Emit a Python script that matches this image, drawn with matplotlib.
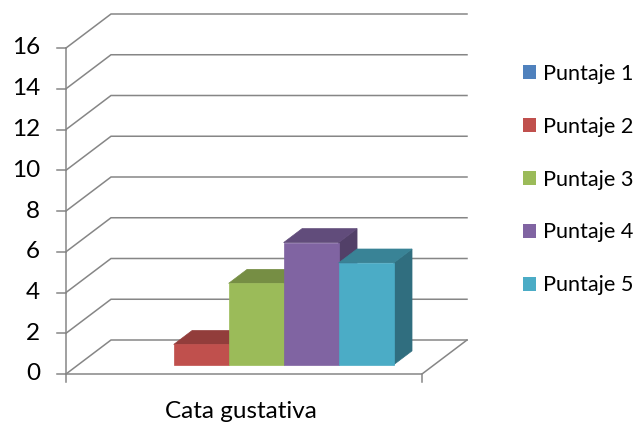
import matplotlib as mpl
import numpy as np

mpl.use("Agg")
from matplotlib import pyplot as plt
from matplotlib.patches import Polygon, Patch

plt.rcParams['font.family'] = ['Lato', 'DejaVu Sans']

category = "Cata gustativa"
series = ["Puntaje 1", "Puntaje 2", "Puntaje 3", "Puntaje 4", "Puntaje 5"]
values = [0, 1, 4, 6, 5]
colors = ["#4F81BD", "#C0504D", "#9BBB59", "#8064A2", "#4BACC6"]
yticks = [0, 2, 4, 6, 8, 10, 12, 14, 16]

# pseudo 3d layout (x: category width = 1, y: value units)
W, H = 637, 428
X0, XW = 66, 356          # px of front floor left, width
Y0, YU = 374, 20.375      # px of value 0, px per unit
DX, DY = 45 / XW, 34 / YU  # full depth offset
GAP = 0.114
D_FRONT, D_BACK = 0.27, 0.68
GRID = "#868686"


def proj(x, v, d):
    return (x + d * DX, v + d * DY)


def darker(c, f):
    r, g, b = mpl.colors.to_rgb(c)
    return (r * f, g * f, b * f)


fig = plt.figure(figsize=(W / 100, H / 100), dpi=100)
ax = fig.add_axes([0, 0, 1, 1])
ax.set_xlim(-X0 / XW, (W - X0) / XW)
ax.set_ylim((Y0 - H) / YU, Y0 / YU)
ax.axis("off")

lw = 1.1
for v in yticks:
    a, b, c = proj(0, v, 0), proj(0, v, 1), proj(1, v, 1)
    ax.plot([a[0], b[0], c[0]], [a[1], b[1], c[1]], color=GRID, lw=lw,
            solid_joinstyle="miter")
    ax.plot([-9 / XW, 0], [v, v], color=GRID, lw=lw)
    ax.text(-26 / XW, v, str(v), ha="right", va="center", fontsize=17.5,
            color="black")

# floor edges and front axis
f0, f1, f2 = proj(0, 0, 0), proj(1, 0, 0), proj(1, 0, 1)
ax.plot([f0[0], f1[0], f2[0]], [f0[1], f1[1], f2[1]], color=GRID, lw=lw)
ax.plot([0, 0], [0, yticks[-1]], color=GRID, lw=lw)
for x in (0, 1):
    ax.plot([x, x], [0, -8 / YU], color=GRID, lw=lw)

# bars
w = (1 - 2 * GAP) / len(values)
for i, (v, col) in enumerate(zip(values, colors)):
    if v == 0:
        continue
    x0, x1 = GAP + i * w, GAP + (i + 1) * w
    front = [proj(x0, 0, D_FRONT), proj(x1, 0, D_FRONT),
             proj(x1, v, D_FRONT), proj(x0, v, D_FRONT)]
    top = [proj(x0, v, D_FRONT), proj(x1, v, D_FRONT),
           proj(x1, v, D_BACK), proj(x0, v, D_BACK)]
    side = [proj(x1, 0, D_FRONT), proj(x1, 0, D_BACK),
            proj(x1, v, D_BACK), proj(x1, v, D_FRONT)]
    for pts, c in ((side, darker(col, 0.64)), (top, darker(col, 0.76)),
                   (front, col)):
        ax.add_patch(Polygon(pts, closed=True, facecolor=c, edgecolor=c,
                             lw=0.5, zorder=3))

ax.text(0.49, (Y0 - 411) / YU, category, ha="center", va="center",
        fontsize=17.5)

handles = [Patch(facecolor=c, edgecolor="none") for c in colors]
leg = fig.legend(handles, series, loc="upper left",
                 bbox_to_anchor=(514 / W, 1 - 55 / H), frameon=False,
                 fontsize=15.6, handlelength=0.62, handleheight=0.62,
                 handletextpad=0.3, labelspacing=1.52, borderaxespad=0)

fig.savefig("out.png", dpi=100)
